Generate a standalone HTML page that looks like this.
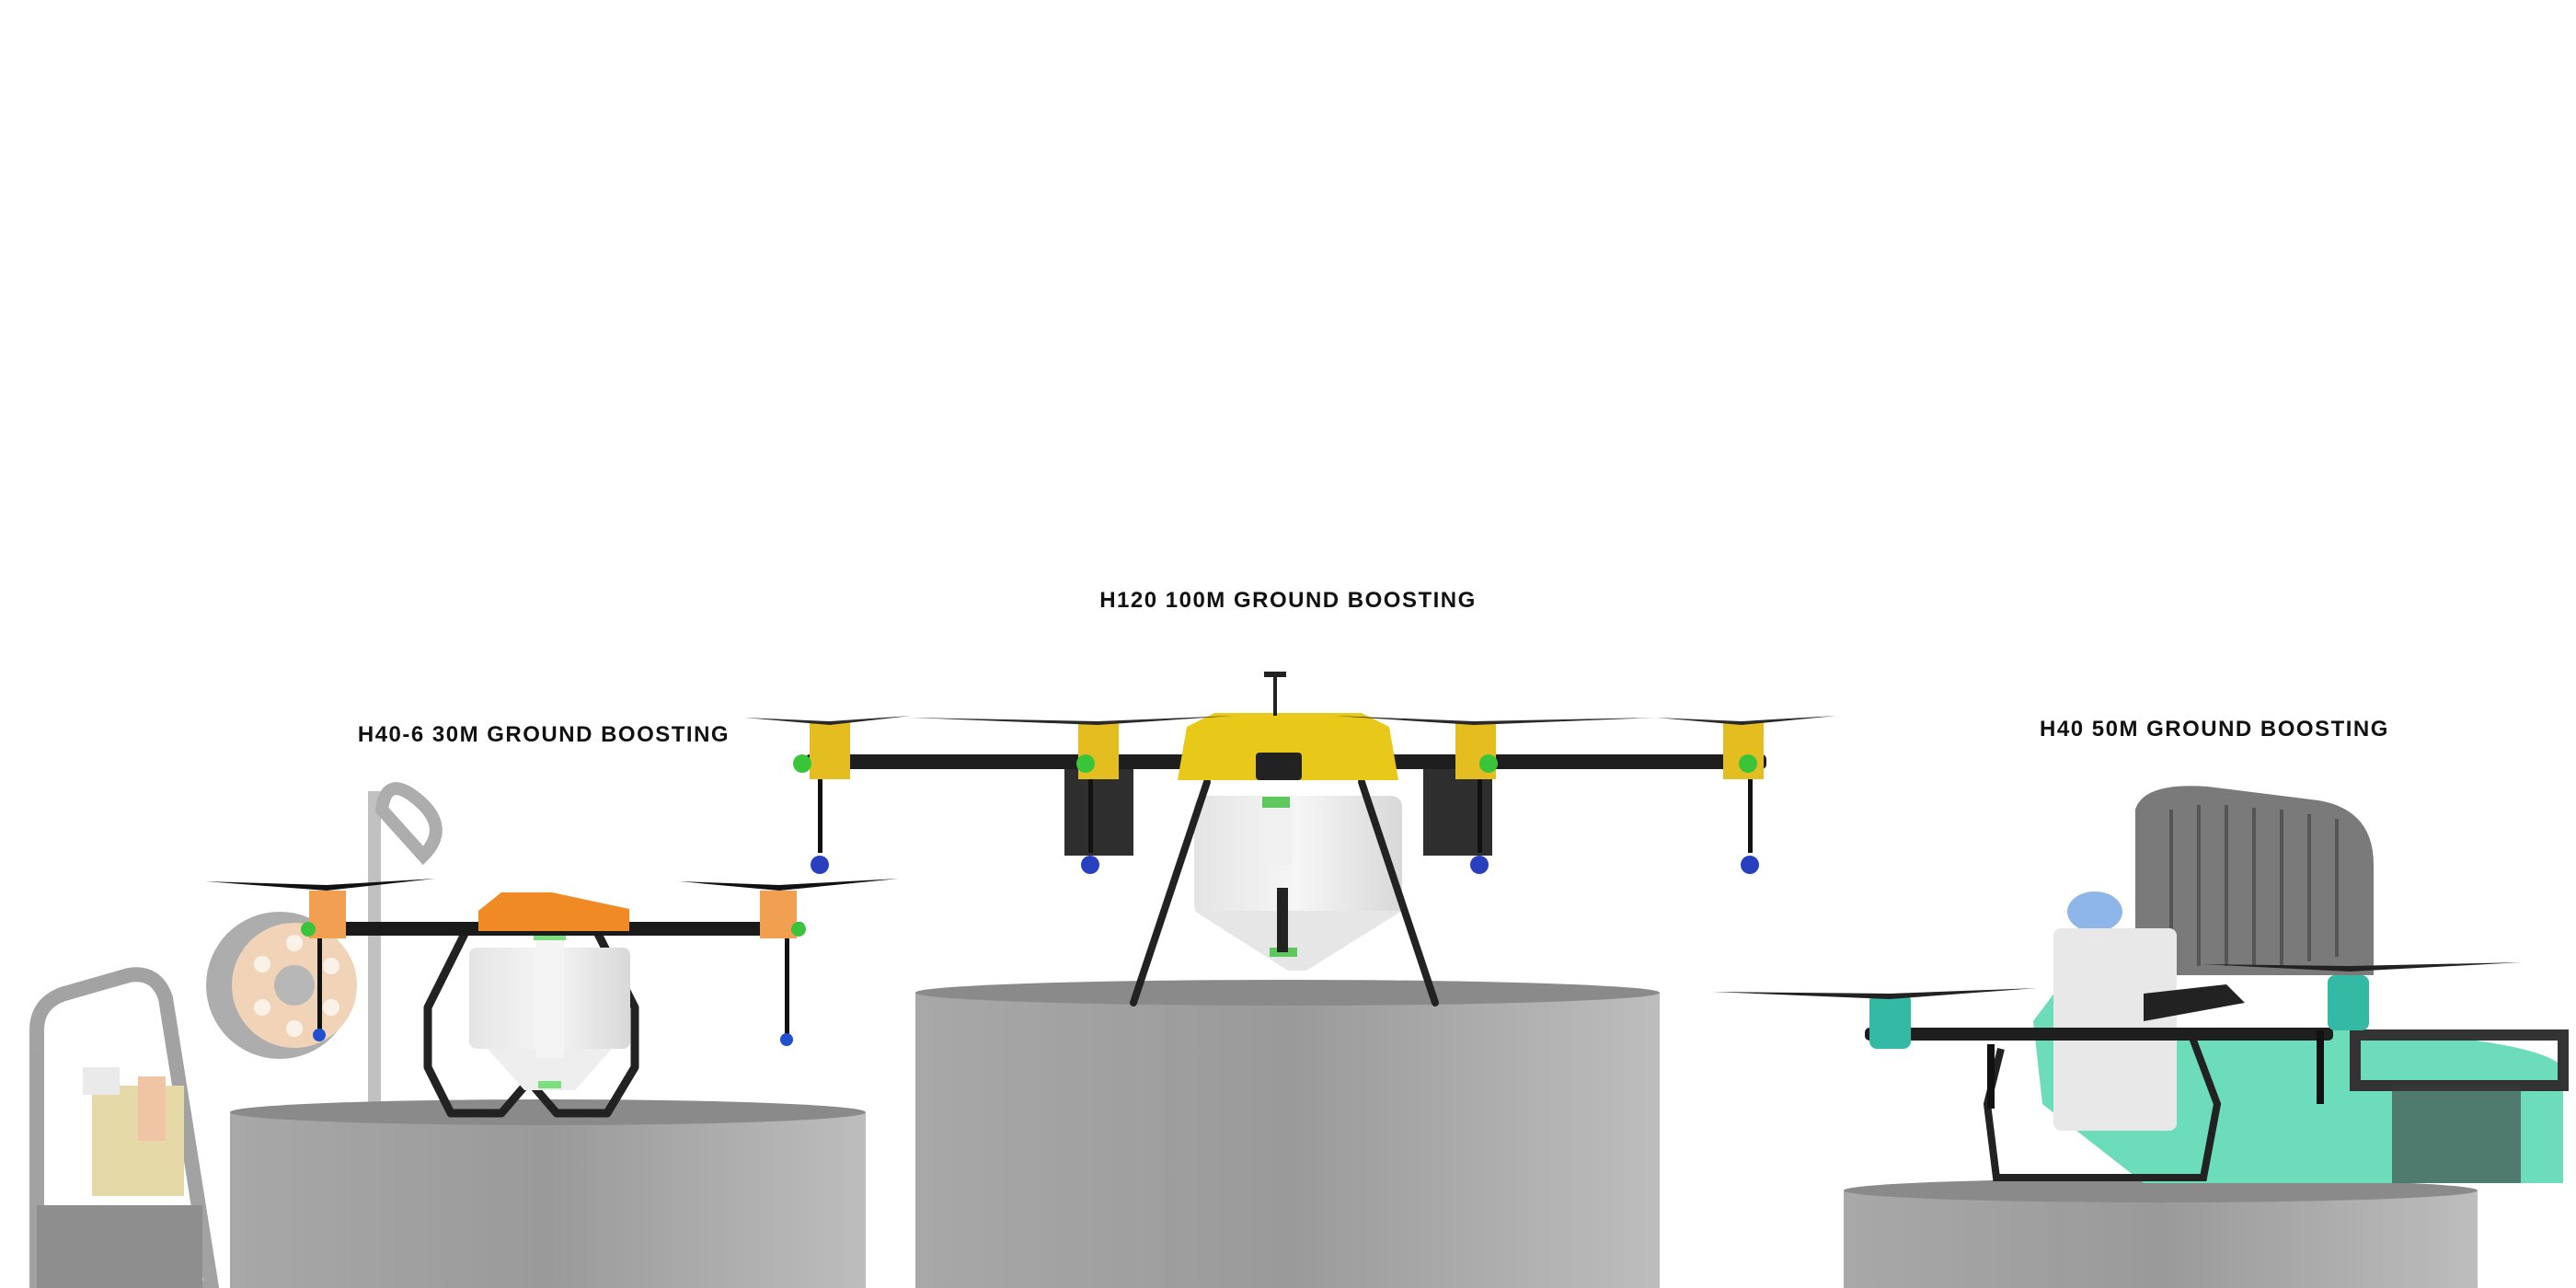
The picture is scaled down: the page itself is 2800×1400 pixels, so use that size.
<!DOCTYPE html>
<html><head><meta charset="utf-8"><style>
html,body{margin:0;padding:0;background:#fff;}
svg{display:block;}
text{font-family:"Liberation Sans",sans-serif;font-weight:bold;font-size:24px;letter-spacing:1.5px;fill:#111;}
</style></head><body>
<svg width="2800" height="1400" viewBox="0 0 2800 1400" xmlns="http://www.w3.org/2000/svg">
<defs>
<linearGradient id="cyl" x1="0" x2="1" y1="0" y2="0">
<stop offset="0" stop-color="#a8a8a8"/><stop offset="0.5" stop-color="#9a9a9a"/><stop offset="1" stop-color="#bdbdbd"/></linearGradient>
<linearGradient id="tank" x1="0" x2="1"><stop offset="0" stop-color="#e4e4e4"/><stop offset="0.5" stop-color="#f6f6f6"/><stop offset="1" stop-color="#d8d8d8"/></linearGradient>
</defs>

<text x="1400" y="660" text-anchor="middle">H120 100M GROUND BOOSTING</text>
<text x="591" y="806" text-anchor="middle">H40-6 30M GROUND BOOSTING</text>
<text x="2407" y="800" text-anchor="middle">H40 50M GROUND BOOSTING</text>

<!-- LEFT background pressure washer -->
<g opacity="0.6">
<path d="M40 1400 L40 1120 Q40 1090 70 1080 L140 1060 Q170 1055 180 1085 L230 1400 Z" fill="none" stroke="#666" stroke-width="16"/>
<rect x="400" y="860" width="14" height="340" fill="#999"/>
<path d="M415 880 Q420 840 455 870 Q490 900 460 930 Z" fill="none" stroke="#777" stroke-width="14"/>
<circle cx="304" cy="1071" r="80" fill="#777"/>
<circle cx="320" cy="1071" r="68" fill="#e8b98a"/>
<circle cx="320" cy="1071" r="22" fill="#888"/>
<g fill="#fff" opacity="0.7"><circle cx="320" cy="1025" r="9"/><circle cx="360" cy="1050" r="9"/><circle cx="360" cy="1095" r="9"/><circle cx="320" cy="1118" r="9"/><circle cx="285" cy="1095" r="9"/><circle cx="285" cy="1048" r="9"/></g>
<rect x="100" y="1180" width="100" height="120" fill="#d6c070"/>
<rect x="150" y="1170" width="30" height="70" fill="#e6a06a"/>
<rect x="90" y="1160" width="40" height="30" fill="#ddd"/>
<rect x="40" y="1310" width="180" height="90" fill="#444"/>
</g>

<!-- cylinders -->
<rect x="250" y="1209" width="691" height="191" fill="url(#cyl)"/>
<ellipse cx="595.5" cy="1209" rx="345.5" ry="14" fill="#8a8a8a"/>
<rect x="995" y="1079" width="809" height="321" fill="url(#cyl)"/>
<ellipse cx="1399.5" cy="1079" rx="404.5" ry="14" fill="#8a8a8a"/>
<rect x="2004" y="1294" width="689" height="106" fill="url(#cyl)"/>
<ellipse cx="2348.5" cy="1294" rx="344.5" ry="13" fill="#8a8a8a"/>

<!-- LEFT drone -->
<g>
<path d="M505 1015 L465 1095 L465 1160 L490 1210 L545 1210 L575 1175 L605 1210 L660 1210 L690 1160 L690 1095 L650 1015" fill="none" stroke="#222" stroke-width="9" stroke-linejoin="round"/>
<rect x="510" y="1030" width="175" height="110" rx="8" fill="url(#tank)"/>
<path d="M530 1140 L665 1140 L625 1185 L570 1185 Z" fill="#eee"/>
<rect x="583" y="1010" width="30" height="140" fill="#f4f4f4"/>
<rect x="585" y="1175" width="25" height="8" fill="#7be07b"/>
<rect x="580" y="1014" width="35" height="8" fill="#7be07b"/>
<rect x="330" y="1002" width="545" height="15" rx="6" fill="#1a1a1a"/>
<path d="M520 990 L545 970 L600 970 L684 988 L684 1012 L520 1012 Z" fill="#f08a24"/>
<rect x="336" y="968" width="40" height="52" fill="#f0a050"/>
<rect x="826" y="968" width="40" height="52" fill="#f0a050"/>
<circle cx="335" cy="1010" r="8" fill="#3bc43b"/><circle cx="868" cy="1010" r="8" fill="#3bc43b"/>
<path d="M223 958 L355 962 L473 955 L355 968 Z" fill="#111"/>
<path d="M738 958 L847 962 L977 955 L847 968 Z" fill="#111"/>
<rect x="345" y="1020" width="5" height="100" fill="#111"/><circle cx="347" cy="1125" r="7" fill="#2050d0"/>
<rect x="853" y="1020" width="5" height="105" fill="#111"/><circle cx="855" cy="1130" r="7" fill="#2050d0"/>
</g>

<!-- MIDDLE drone -->
<g>
<rect x="1157" y="830" width="75" height="100" fill="#2e2e2e"/>
<rect x="1547" y="830" width="75" height="100" fill="#2e2e2e"/>
<rect x="1298" y="865" width="226" height="130" rx="12" fill="url(#tank)"/>
<path d="M1298 990 L1524 990 L1420 1055 L1400 1055 Z" fill="#e6e6e6"/>
<rect x="1370" y="870" width="34" height="70" fill="#f0f0f0"/>
<rect x="1372" y="866" width="30" height="12" fill="#5ec85e"/>
<rect x="1380" y="1030" width="30" height="10" fill="#5ec85e"/>
<rect x="1388" y="965" width="12" height="70" fill="#222"/>
<line x1="1312" y1="850" x2="1232" y2="1090" stroke="#222" stroke-width="8" stroke-linecap="round"/>
<line x1="1480" y1="850" x2="1560" y2="1090" stroke="#222" stroke-width="8" stroke-linecap="round"/>
<rect x="875" y="820" width="1045" height="16" rx="5" fill="#1e1e1e"/>
<path d="M1290 790 L1320 775 L1480 775 L1510 790 L1520 848 L1280 848 Z" fill="#e8c818"/>
<rect x="1365" y="818" width="50" height="30" rx="4" fill="#222"/>
<rect x="1384" y="733" width="4" height="45" fill="#222"/><rect x="1374" y="730" width="24" height="6" fill="#222"/>
<g fill="#e4be20">
<rect x="880" y="785" width="44" height="62"/><rect x="1172" y="785" width="44" height="62"/>
<rect x="1582" y="785" width="44" height="62"/><rect x="1873" y="785" width="44" height="62"/></g>
<g fill="#39c439"><circle cx="872" cy="830" r="10"/><circle cx="1180" cy="830" r="10"/><circle cx="1618" cy="830" r="10"/><circle cx="1900" cy="830" r="10"/></g>
<g fill="#2a2a2a">
<path d="M809 780 L902 784 L990 778 L902 788 Z"/><path d="M990 780 L1193 784 L1340 778 L1193 788 Z"/>
<path d="M1450 778 L1602 784 L1800 780 L1602 788 Z"/><path d="M1800 780 L1893 784 L1996 778 L1893 788 Z"/></g>
<g fill="#111"><rect x="889" y="847" width="5" height="80"/><rect x="1183" y="847" width="5" height="80"/><rect x="1606" y="847" width="5" height="80"/><rect x="1900" y="847" width="5" height="80"/></g>
<g fill="#2840c0"><circle cx="891" cy="940" r="10"/><circle cx="1185" cy="940" r="10"/><circle cx="1608" cy="940" r="10"/><circle cx="1902" cy="940" r="10"/></g>
</g>

<!-- RIGHT background machine -->
<g>
<path d="M2321 1060 L2321 880 Q2330 850 2400 855 L2520 870 Q2580 880 2580 940 L2580 1060 Z" fill="#7a7a7a"/>
<g stroke="#555" stroke-width="4">
<line x1="2360" y1="880" x2="2360" y2="1050"/><line x1="2390" y1="875" x2="2390" y2="1050"/><line x1="2420" y1="875" x2="2420" y2="1050"/><line x1="2450" y1="878" x2="2450" y2="1050"/><line x1="2480" y1="880" x2="2480" y2="1050"/><line x1="2510" y1="885" x2="2510" y2="1045"/><line x1="2540" y1="890" x2="2540" y2="1040"/></g>
<path d="M2210 1110 L2240 1070 L2300 1065 L2300 1120 L2560 1120 Q2760 1130 2786 1160 L2786 1286 L2330 1286 L2220 1200 Z" fill="#6cdcba"/>
<path d="M2560 1125 L2786 1125 L2786 1180 L2560 1180 Z" fill="none" stroke="#333" stroke-width="12"/>
<rect x="2600" y="1180" width="140" height="106" fill="#3a3a3a" opacity="0.6"/>
</g>

<!-- RIGHT drone -->
<g>
<ellipse cx="2277" cy="991" rx="30" ry="22" fill="#8fb6e8"/>
<rect x="2232" y="1009" width="134" height="220" rx="8" fill="#e8e8e8"/>
<path d="M2175 1140 L2160 1200 L2170 1280 L2395 1280 L2410 1200 L2380 1120" fill="none" stroke="#222" stroke-width="8"/>
<rect x="2027" y="1117" width="509" height="14" rx="5" fill="#1e1e1e"/>
<path d="M2330 1080 L2420 1070 L2440 1090 L2330 1110 Z" fill="#222"/>
<rect x="2032" y="1080" width="45" height="60" rx="8" fill="#33b9a4"/>
<rect x="2530" y="1060" width="45" height="60" rx="8" fill="#33b9a4"/>
<path d="M1861 1078 L2054 1080 L2214 1074 L2054 1086 Z" fill="#222"/>
<path d="M2393 1048 L2554 1050 L2741 1046 L2554 1056 Z" fill="#222"/>
<rect x="2518" y="1120" width="8" height="80" fill="#111"/>
<rect x="2160" y="1135" width="8" height="70" fill="#111"/>
</g>
</svg>
</body></html>
